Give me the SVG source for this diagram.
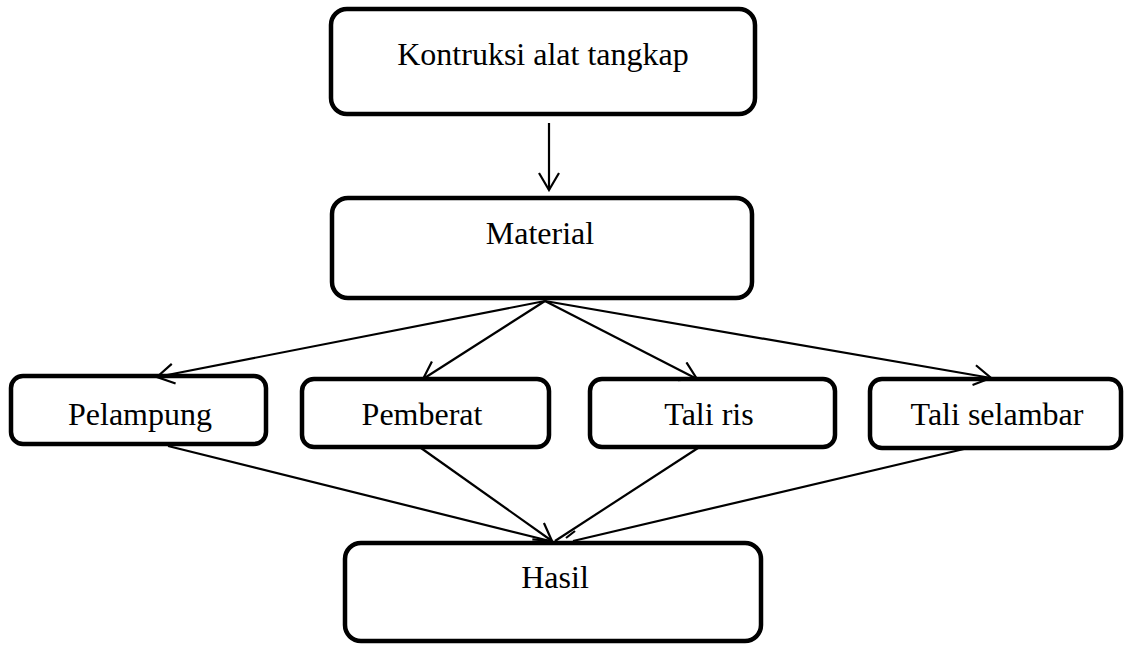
<svg xmlns="http://www.w3.org/2000/svg" width="1125" height="646" viewBox="0 0 1125 646">
<defs>
<style>
.box{fill:#fff;stroke:#000;stroke-width:4.5}
.lbl{font-family:"Liberation Serif","Times New Roman",serif;font-size:32px;fill:#000;text-anchor:middle}
.con line{stroke:#000;stroke-width:2.2;fill:none}
</style>
<marker id="arr" viewBox="0 0 20 22" refX="18" refY="11" markerWidth="20" markerHeight="22" markerUnits="userSpaceOnUse" orient="auto">
<path d="M1,1 L18,11 L1,21" fill="none" stroke="#000" stroke-width="2.2"/>
</marker>
</defs>
<rect width="1125" height="646" fill="#fff"/>
<g id="n-kontruksi"><rect class="box" x="331" y="9" width="424" height="105" rx="16"/><text class="lbl" x="543" y="65">Kontruksi alat tangkap</text></g>
<g id="n-material"><rect class="box" x="332" y="198" width="420" height="100" rx="16"/><text class="lbl" x="540" y="244">Material</text></g>
<g id="n-pelampung"><rect class="box" x="11" y="376" width="255" height="68" rx="12"/><text class="lbl" x="140" y="425">Pelampung</text></g>
<g id="n-pemberat"><rect class="box" x="302" y="379" width="247" height="68" rx="12"/><text class="lbl" x="422" y="425">Pemberat</text></g>
<g id="n-taliris"><rect class="box" x="590" y="379" width="245" height="68" rx="12"/><text class="lbl" x="709" y="425">Tali ris</text></g>
<g id="n-taliselambar"><rect class="box" x="870" y="379" width="251" height="69" rx="12"/><text class="lbl" x="997" y="425">Tali selambar</text></g>
<g id="n-hasil"><rect class="box" x="345" y="543" width="416" height="98" rx="16"/><text class="lbl" x="555" y="588">Hasil</text></g>
<g id="connectors" class="con">
<line x1="549" y1="123" x2="549" y2="190" marker-end="url(#arr)"/>
<line x1="545" y1="301" x2="157" y2="377" marker-end="url(#arr)"/>
<line x1="545" y1="301" x2="423" y2="379" marker-end="url(#arr)"/>
<line x1="545" y1="301" x2="697" y2="379" marker-end="url(#arr)"/>
<line x1="545" y1="301" x2="991" y2="378" marker-end="url(#arr)"/>
<line x1="168" y1="446" x2="550" y2="541"/>
<line x1="421" y1="448" x2="552" y2="541" marker-end="url(#arr)"/>
<line x1="698" y1="448" x2="555" y2="541"/>
<line x1="964" y1="449" x2="573" y2="541"/>
<line x1="566" y1="538" x2="575" y2="531"/>
</g>
</svg>
